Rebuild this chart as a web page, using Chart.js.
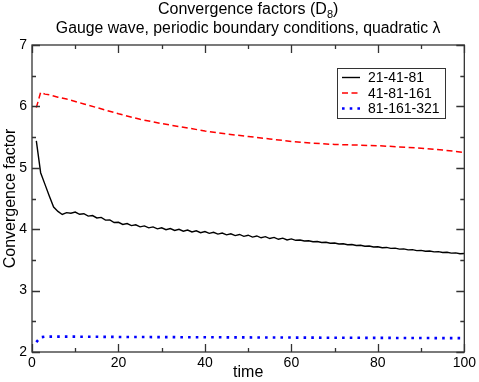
<!DOCTYPE html>
<html>
<head>
<meta charset="utf-8">
<script src="https://cdn.jsdelivr.net/npm/chart.js@4/dist/chart.umd.min.js"></script>
<style>
  html, body { margin: 0; padding: 0; background: #fff; }
</style>
</head>
<body>
<canvas id="convChart" width="479" height="382"></canvas>
<script>
// series data
const seriesNames = ['21-41-81', '41-81-161', '81-161-321']

const timeCoarse = [1, 2, 3, 4, 5, 6, 7, 8, 9, 10, 11, 12, 13, 14, 15, 16, 17, 18, 19, 20,
  21, 22, 23, 24, 25, 26, 27, 28, 29, 30, 31, 32, 33, 34, 35, 36, 37, 38, 39, 40,
  41, 42, 43, 44, 45, 46, 47, 48, 49, 50, 51, 52, 53, 54, 55, 56, 57, 58, 59, 60,
  61, 62, 63, 64, 65, 66, 67, 68, 69, 70, 71, 72, 73, 74, 75, 76, 77, 78, 79, 80,
  81, 82, 83, 84, 85, 86, 87, 88, 89, 90, 91, 92, 93, 94, 95, 96, 97, 98, 99, 100]
const conv21 = [5.44, 4.92, 4.73, 4.54, 4.36, 4.29, 4.24, 4.27, 4.26, 4.28,
  4.243, 4.252, 4.213, 4.222, 4.183, 4.192, 4.148, 4.152, 4.108, 4.112,
  4.078, 4.092, 4.058, 4.072, 4.038, 4.054, 4.022, 4.038, 4.006, 4.022,
  3.992, 4.010, 3.980, 3.998, 3.968, 3.986, 3.956, 3.974, 3.944, 3.962,
  3.932, 3.950, 3.920, 3.938, 3.908, 3.926, 3.896, 3.914, 3.884, 3.902,
  3.872, 3.890, 3.860, 3.878, 3.848, 3.866, 3.836, 3.854, 3.824, 3.842,
  3.819, 3.823, 3.807, 3.811, 3.795, 3.799, 3.783, 3.787, 3.771, 3.775,
  3.759, 3.763, 3.747, 3.751, 3.735, 3.739, 3.723, 3.727, 3.711, 3.715,
  3.699, 3.703, 3.687, 3.691, 3.675, 3.679, 3.663, 3.667, 3.651, 3.655,
  3.640, 3.645, 3.630, 3.635, 3.620, 3.625, 3.610, 3.615, 3.600, 3.605]

const timeRed = [1, 2, 3, 4, 5, 6, 8, 10, 12, 15, 20, 25, 30, 35, 40, 45, 50, 55, 60, 65, 70, 75, 80, 85, 90, 95, 100]
const conv41 = [5.98, 6.23, 6.20, 6.19, 6.17, 6.15, 6.12, 6.08, 6.04, 5.98, 5.88, 5.79, 5.72, 5.66, 5.60,
  5.55, 5.51, 5.47, 5.43, 5.40, 5.38, 5.37, 5.36, 5.34, 5.32, 5.29, 5.25]

const timeBlue = [1, 2, 3, 5, 10, 20, 40, 60, 80, 100]
const conv81 = [2.16, 2.24, 2.25, 2.25, 2.25, 2.245, 2.24, 2.235, 2.23, 2.225]

const yTickLabels = ['2', '3', '4', '5', '6', '7']
const xTickLabels = ['0', '20', '40', '60', '80', '100']

const FONT = '"Liberation Sans", Arial, sans-serif'

const toPoints = (xs, ys) => xs.map((x, i) => ({ x: x, y: ys[i] }))

// frame, inner ticks, titles and legend box
const decorations = {
  id: 'decorations',
  afterDatasetsDraw(chart) {
    const ctx = chart.ctx
    const a = chart.chartArea
    const xs = chart.scales.x
    const ys = chart.scales.y
    ctx.save()
    ctx.strokeStyle = '#333'
    ctx.lineWidth = 1.3
    ctx.strokeRect(a.left, a.top, a.right - a.left, a.bottom - a.top)
    ctx.beginPath()
    for (let v = 0; v <= 100; v += 10) {
      const px = Math.round(xs.getPixelForValue(v)) + 0.5
      const len = v % 20 === 0 ? 8 : 4
      ctx.moveTo(px, a.bottom); ctx.lineTo(px, a.bottom - len)
      ctx.moveTo(px, a.top); ctx.lineTo(px, a.top + len)
    }
    for (let v = 2; v <= 7.001; v += 0.5) {
      const py = Math.round(ys.getPixelForValue(v)) + 0.5
      const len = Math.abs(v - Math.round(v)) < 0.01 ? 8 : 4
      ctx.moveTo(a.left, py); ctx.lineTo(a.left + len, py)
      ctx.moveTo(a.right, py); ctx.lineTo(a.right - len, py)
    }
    ctx.stroke()
    ctx.restore()
  },
  afterDraw(chart) {
    const ctx = chart.ctx
    const a = chart.chartArea
    const cx = (a.left + a.right) / 2
    ctx.save()
    ctx.fillStyle = '#000'
    ctx.textBaseline = 'middle'

    // main title with subscript
    const t1 = 'Convergence factors (D'
    const sub = '8'
    const t2 = ')'
    ctx.font = '16px ' + FONT
    const w1 = ctx.measureText(t1).width
    const w3 = ctx.measureText(t2).width
    ctx.font = '11px ' + FONT
    const w2 = ctx.measureText(sub).width
    let x0 = cx - (w1 + w2 + w3) / 2
    ctx.textAlign = 'left'
    ctx.font = '16px ' + FONT
    ctx.fillText(t1, x0, 10)
    ctx.font = '11px ' + FONT
    ctx.fillText(sub, x0 + w1, 15)
    ctx.font = '16px ' + FONT
    ctx.fillText(t2, x0 + w1 + w2, 10)

    ctx.textAlign = 'center'
    ctx.font = '15.8px ' + FONT
    ctx.fillText('Gauge wave, periodic boundary conditions, quadratic \u03bb', cx, 29)

    // axis titles
    ctx.font = '16px ' + FONT
    ctx.fillText('time', cx, 373)
    ctx.save()
    ctx.translate(11, (a.top + a.bottom) / 2)
    ctx.rotate(-Math.PI / 2)
    ctx.fillText('Convergence factor', 0, 0)
    ctx.restore()

    // legend
    ctx.fillStyle = '#fff'
    ctx.fillRect(337, 68, 108, 50)
    ctx.strokeStyle = '#333'
    ctx.lineWidth = 1
    ctx.strokeRect(337.5, 68.5, 108, 50)
    ctx.textAlign = 'left'
    ctx.font = '14px ' + FONT
    chart.data.datasets.forEach((ds, i) => {
      const y = 77.5 + i * 15.5
      ctx.save()
      ctx.strokeStyle = ds.borderColor
      ctx.lineWidth = ds.borderWidth
      ctx.setLineDash(ds.borderDash || [])
      ctx.beginPath()
      ctx.moveTo(342, y); ctx.lineTo(360, y)
      ctx.stroke()
      ctx.restore()
      ctx.fillStyle = '#000'
      ctx.fillText(ds.label, 368, y + 1)
    })
    ctx.restore()
  }
}

const makeChart = () => {
  const ctx = document.getElementById('convChart').getContext('2d')
  return new Chart(ctx, {
    type: 'line',
    data: {
      datasets: [
        {
          label: seriesNames[0],
          data: toPoints(timeCoarse, conv21),
          borderColor: '#000000',
          borderWidth: 1.4,
          pointRadius: 0
        },
        {
          label: seriesNames[1],
          data: toPoints(timeRed, conv41),
          borderColor: '#ff0000',
          borderWidth: 1.5,
          borderDash: [6, 3.5],
          pointRadius: 0
        },
        {
          label: seriesNames[2],
          data: toPoints(timeBlue, conv81),
          borderColor: '#0000ff',
          borderWidth: 2.6,
          borderDash: [2.6, 5.1],
          pointRadius: 0
        }
      ]
    },
    options: {
      responsive: false,
      animation: false,
      devicePixelRatio: 1,
      layout: { padding: { left: 0, right: 12, top: 45, bottom: 0 } },
      plugins: {
        legend: { display: false },
        title: { display: false },
        tooltip: { enabled: false }
      },
      scales: {
        x: {
          type: 'linear',
          min: 0,
          max: 100,
          grid: { display: false, drawTicks: false },
          border: { display: false },
          afterFit: (scale) => { scale.height = 30 },
          ticks: {
            stepSize: 20,
            padding: 3,
            color: '#000',
            font: { family: FONT, size: 14 },
            callback: (v) => xTickLabels[v / 20]
          }
        },
        y: {
          type: 'linear',
          min: 2,
          max: 7,
          grid: { display: false, drawTicks: false },
          border: { display: false },
          afterFit: (scale) => { scale.width = 32 },
          ticks: {
            stepSize: 1,
            padding: 5,
            color: '#000',
            font: { family: FONT, size: 14 },
            callback: (v) => yTickLabels[v - 2]
          }
        }
      }
    },
    plugins: [decorations]
  })
}

const chart = makeChart()
</script>
</body>
</html>
